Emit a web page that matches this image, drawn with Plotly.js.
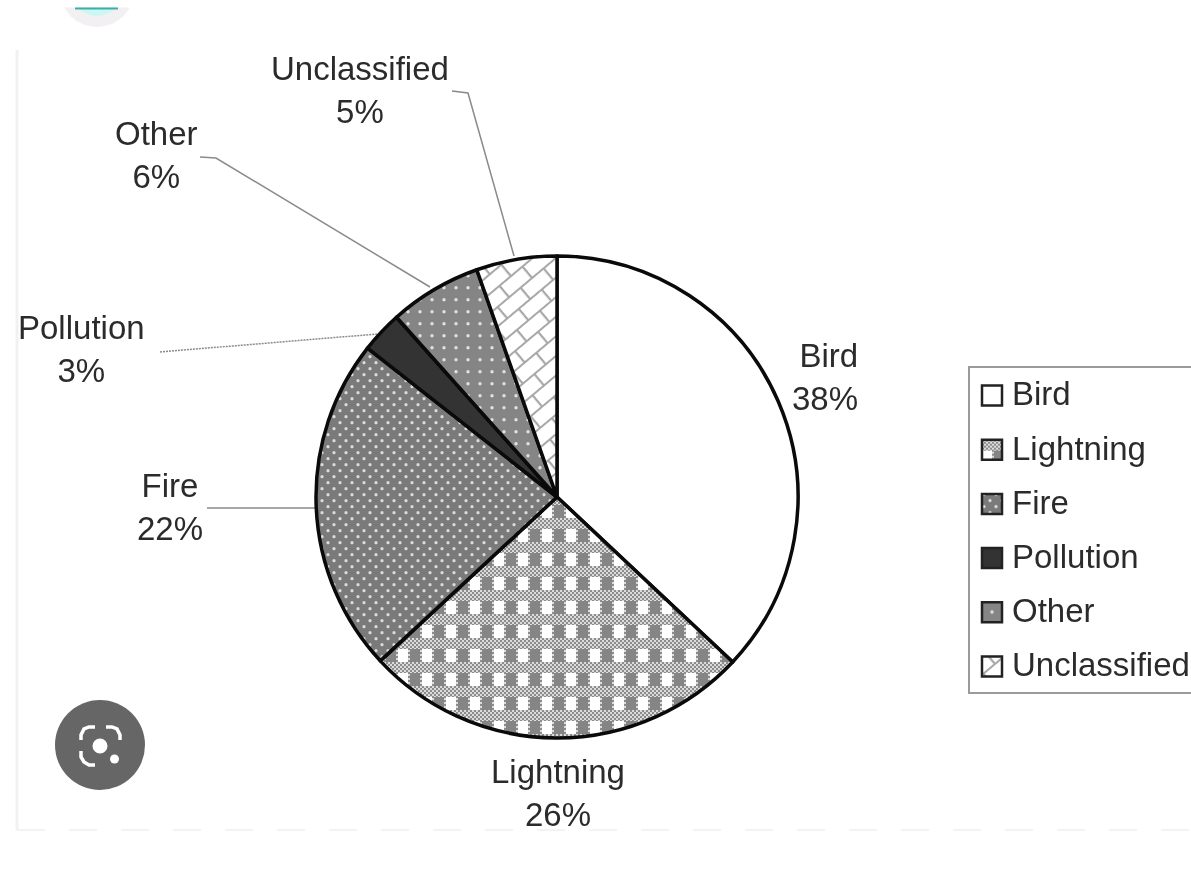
<!DOCTYPE html>
<html>
<head>
<meta charset="utf-8">
<script src="https://cdn.plot.ly/plotly-3.0.1.min.js"></script>
<style>html,body{margin:0;padding:0;background:#fff}#chart{width:1191px;height:869px;filter:blur(0.45px)}</style>
</head>
<body>
<div id="chart"></div>
<script>
// Chart data
var categories = ['Bird','Lightning','Fire','Pollution','Other','Unclassified'];
var printedPercent = [38,26,22,3,6,5];
// Slice sizes as drawn in the picture (they differ slightly from the printed labels)
var drawnShare = [37.0,26.1,22.5,2.8,6.2,5.4];
var sliceColors = ['#ffffff','#ffffff','#7a7a7a','#333333','#858585','#ffffff'];
var labelCenters = [[825,377],[558,793],[170,507],[81,349],[156,155],[360,90]];
var labelAlign = ['right','center','center','center','center','center'];

var W = 1191, H = 869;
var px = function(x){return x/W;};
var py = function(y){return 1-y/H;};
var FONT = '"Liberation Sans", Arial, sans-serif';

function line(pts, color, width, dash){
  var d = pts.map(function(p,i){return (i?'L':'M')+px(p[0])+','+py(p[1]);}).join(' ');
  return {type:'path',xref:'paper',yref:'paper',path:d,line:{color:color,width:width,dash:dash||'solid'},layer:'below'};
}
function circle(cx,cy,r,fill){
  return {type:'circle',xref:'paper',yref:'paper',x0:px(cx-r),x1:px(cx+r),y0:py(cy+r),y1:py(cy-r),
    fillcolor:fill,line:{color:fill,width:0},layer:'above'};
}
function iconStroke(pts){
  var s = line(pts,'#ffffff',3.5); s.layer='above'; return s;
}
var topLine = line([[75,8.5],[118,8.5]],'#3fae9f',2); topLine.layer='above';

var shapes = [
  // leader lines
  line([[452,91],[468,93],[514,256]],'#8a8a8a',1.5),
  line([[200,157],[216,158],[430,287]],'#8a8a8a',1.5),
  line([[160,352],[377,334]],'#8a8a8a',1.5,'2px,1px'),
  line([[207,508],[317,508]],'#8a8a8a',1.5),
  // faint page frame
  line([[17,50],[17,830]],'#f1f1f1',3),
  line([[17,830],[1191,830]],'#f0f0f0',1.5,'28px,24px'),
  // lens icon
  circle(100,745,45,'#666666'),
  circle(100,746,7.5,'#ffffff'),
  circle(114.5,759,4.5,'#ffffff'),
  iconStroke([[81,740],[81,735],[84,729],[89,727],[95,727]]),
  iconStroke([[106,727],[112,727],[117,729],[120,735],[120,740]]),
  iconStroke([[81,751],[81,757],[84,762],[89,765],[95,765]]),
  // clipped badge at the top of the page
  circle(97,-10,37,'#f3f0f3'),
  circle(97,-10,26,'#cdf7f5'),
  {type:'rect',xref:'paper',yref:'paper',x0:px(50),x1:px(150),y0:py(7.5),y1:py(0),fillcolor:'#ffffff',line:{width:0},layer:'above'},
  topLine
];

var annotations = categories.map(function(name,i){
  return {xref:'paper',yref:'paper',x:px(labelCenters[i][0]),y:py(labelCenters[i][1]),
    xanchor:'center',yanchor:'middle',showarrow:false,align:labelAlign[i],
    text:name+'<br>'+printedPercent[i]+'%',font:{family:FONT,size:33,color:'#2b2b2b'}};
});

var data = [{
  type:'pie',
  labels:categories,
  values:drawnShare,
  sort:false,
  direction:'clockwise',
  rotation:0,
  textinfo:'none',
  hoverinfo:'label+text',
  hovertext:printedPercent.map(function(p){return p+'%';}),
  domain:{x:[px(316),px(798)],y:[py(738),py(256)]},
  marker:{
    colors:sliceColors,
    line:{color:'#0a0a0a',width:3.5},
    pattern:{
      shape:['','+','.','','.','x'],
      size:[8,12,12,8,12,14],
      solidity:[0.1,0.4,0.12,0.1,0.06,0.15],
      fgcolor:['#fff','#8a8a8a','#dedede','#333','#dedede','#999999'],
      bgcolor:sliceColors,
      fillmode:'replace'
    }
  }
}];

var layout = {
  width:W,height:H,
  margin:{l:0,r:0,t:0,b:0,autoexpand:false},
  paper_bgcolor:'#ffffff',
  showlegend:true,
  legend:{
    x:px(968),y:py(366),xanchor:'left',yanchor:'top',
    font:{family:FONT,size:33,color:'#2b2b2b'},
    bgcolor:'#ffffff',bordercolor:'#9a9a9a',borderwidth:2,
    itemclick:false,itemdoubleclick:false
  },
  annotations:annotations,
  shapes:shapes
};

var NS='http://www.w3.org/2000/svg';
function el(tag,attrs,parent){
  var e=document.createElementNS(NS,tag);
  for(var k in attrs){e.setAttribute(k,attrs[k]);}
  if(parent){parent.appendChild(e);}
  return e;
}

Plotly.newPlot('chart',data,layout,{displayModeBar:false}).then(function(gd){
  var svg=gd.querySelector('.main-svg');
  var defs=svg.querySelector('defs')||el('defs',{},svg);

  // fine checker used by the Lightning hatch
  var ck=el('pattern',{id:'ckFine',patternUnits:'userSpaceOnUse',width:4,height:4},defs);
  el('rect',{x:0,y:0,width:4,height:4,fill:'#dcdcdc'},ck);
  el('rect',{x:0,y:0,width:2,height:2,fill:'#8c8c8c'},ck);
  el('rect',{x:2,y:2,width:2,height:2,fill:'#8c8c8c'},ck);
  // Lightning hatch
  var lg=el('pattern',{id:'hatchLightning',patternUnits:'userSpaceOnUse',width:24,height:24},defs);
  el('rect',{x:0,y:0,width:24,height:24,fill:'url(#ckFine)'},lg);
  el('rect',{x:2,y:1,width:10,height:13,fill:'#858585'},lg);
  el('rect',{x:14,y:1,width:10,height:13,fill:'#ffffff'},lg);
  // Unclassified brick hatch
  var br=el('pattern',{id:'hatchBrick',patternUnits:'userSpaceOnUse',width:30,height:30,patternTransform:'rotate(-40)'},defs);
  el('rect',{x:0,y:0,width:30,height:30,fill:'#ffffff'},br);
  el('path',{d:'M0,0H30M0,15H30M18.9,0V15M3.9,15V30M0,30H30',stroke:'#a8a8a8','stroke-width':2.2,fill:'none'},br);
  // Fire: staggered fine dots
  var fd=el('pattern',{id:'hatchFire',patternUnits:'userSpaceOnUse',width:12,height:12},defs);
  el('rect',{x:0,y:0,width:12,height:12,fill:'#7a7a7a'},fd);
  el('circle',{cx:4,cy:2.7,r:1.6,fill:'#dcdcdc'},fd);
  el('circle',{cx:10,cy:8.7,r:1.6,fill:'#dcdcdc'},fd);
  // Other: square grid of dots
  var od=el('pattern',{id:'hatchOther',patternUnits:'userSpaceOnUse',width:12,height:12},defs);
  el('rect',{x:0,y:0,width:12,height:12,fill:'#858585'},od);
  el('circle',{cx:0,cy:11.7,r:1.7,fill:'#e2e2e2'},od);
  el('circle',{cx:12,cy:11.7,r:1.7,fill:'#e2e2e2'},od);
  el('circle',{cx:0,cy:-0.3,r:1.7,fill:'#e2e2e2'},od);
  el('circle',{cx:12,cy:-0.3,r:1.7,fill:'#e2e2e2'},od);

  var fills={1:'url(#hatchLightning)',2:'url(#hatchFire)',4:'url(#hatchOther)',5:'url(#hatchBrick)'};
  var slices=gd.querySelectorAll('.slice path.surface');
  Object.keys(fills).forEach(function(i){slices[i].style.fill=fills[i];});

  // legend: open rows to the reference spacing and enlarge swatches
  var rows=gd.querySelectorAll('.legend .traces');
  rows.forEach(function(r,i){
    r.setAttribute('transform','translate(2,'+(26.5+i*54.2)+')');
    var sw=r.querySelector('.legendpie');
    if(sw){
      sw.setAttribute('d','M10,10H-10V-10H10Z');
      sw.setAttribute('transform','translate(22,3)');
      sw.style.strokeWidth='2.5px';
      sw.style.stroke='#222';
      if(fills[i]){sw.style.fill=fills[i];}
    }
    var t=r.querySelector('.legendtext');
    if(t){t.setAttribute('x','42');}
  });
  var bg=gd.querySelector('.legend rect.bg');
  if(bg){bg.setAttribute('height','326');bg.setAttribute('width','240');}
  document.querySelectorAll('clipPath[id*="legend"] rect').forEach(function(c){
    c.setAttribute('height','326');c.setAttribute('width','240');
  });
});
</script>
</body>
</html>
